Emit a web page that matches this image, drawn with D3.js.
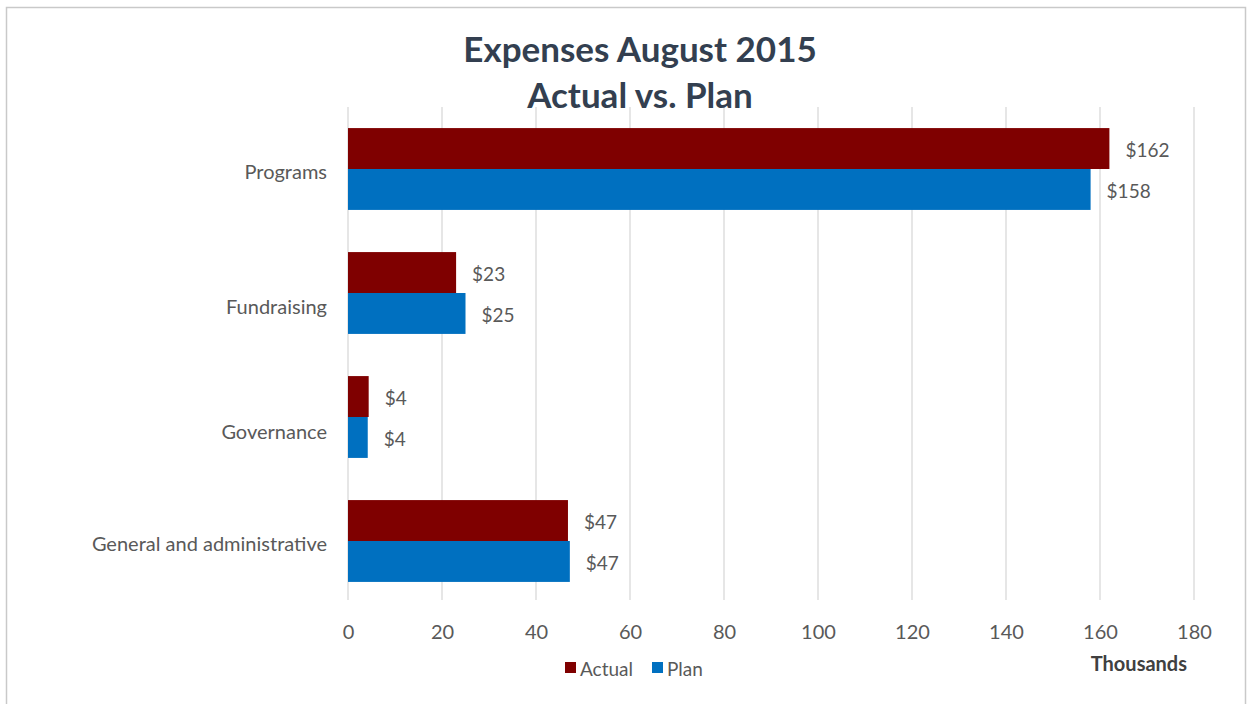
<!DOCTYPE html>
<html>
<head>
<meta charset="utf-8">
<script src="https://cdn.jsdelivr.net/npm/d3@7"></script>
<style>
  html, body { margin: 0; padding: 0; background: #fff; }
  svg { display: block; }
  text { font-family: Lato, "Open Sans", sans-serif; }
</style>
</head>
<body>
<svg id="chart" width="1251" height="704"></svg>
<script>
const categories = ["Programs", "Fundraising", "Governance", "General and administrative"];
const seriesNames = ["Actual", "Plan"];
const actualValues = [162, 23, 4.4, 46.8];
const planValues = [158, 25, 4.2, 47.2];
const xTicks = [0, 20, 40, 60, 80, 100, 120, 140, 160, 180];
const titleLines = ["Expenses August 2015", "Actual vs. Plan"];
const unitLabel = "Thousands";
const colors = { Actual: "#7F0000", Plan: "#0070C0" };

const svg = d3.select("#chart");

// frame
svg.append("rect").attr("x", 6.5).attr("y", 7.5).attr("width", 1239).attr("height", 700)
  .attr("fill", "#fff").attr("stroke", "#c9c9c9").attr("stroke-width", 1.5);

const x = d3.scaleLinear().domain([0, 180]).range([348, 1194]);
const y = d3.scaleBand().domain(categories).range([107, 603]).paddingInner(0.34).paddingOuter(0.17);
const ySub = d3.scaleBand().domain(seriesNames).range([0, y.bandwidth()]);

// gridlines
svg.append("g").selectAll("line").data(xTicks).join("line")
  .attr("x1", d => x(d)).attr("x2", d => x(d))
  .attr("y1", 107).attr("y2", 600)
  .attr("stroke", "#d9d9d9").attr("stroke-width", 1.3);

// bars
const data = categories.map((c, i) => ({ cat: c, Actual: actualValues[i], Plan: planValues[i] }));
const groups = svg.append("g").selectAll("g").data(data).join("g")
  .attr("transform", d => `translate(0,${y(d.cat)})`);
groups.selectAll("rect").data(d => seriesNames.map(s => ({ s, v: d[s] }))).join("rect")
  .attr("x", x(0)).attr("y", d => ySub(d.s)).attr("width", d => x(d.v) - x(0))
  .attr("height", ySub.bandwidth()).attr("fill", d => colors[d.s]);
groups.selectAll("text").data(d => seriesNames.map(s => ({ s, v: d[s] }))).join("text")
  .attr("x", d => x(d.v) + 16).attr("y", d => ySub(d.s) + ySub.bandwidth() / 2 + 2)
  .attr("dy", "0.35em").attr("font-size", 19).attr("fill", "#595959")
  .text(d => "$" + Math.round(d.v));

// category axis labels (slight vertical offsets as in the original rendering)
const catLabelShift = [3, 14, 15, 3];
svg.append("g").selectAll("text").data(categories).join("text")
  .attr("x", 327).attr("y", (d, i) => y(d) + y.bandwidth() / 2 + catLabelShift[i]).attr("dy", "0.35em")
  .attr("text-anchor", "end").attr("font-size", 20).attr("fill", "#595959")
  .text(d => d);

// x axis tick labels
const xAxis = d3.axisBottom(x).tickValues(xTicks).tickSize(0).tickPadding(0);
const gx = svg.append("g").attr("transform", "translate(0,632)").call(xAxis);
gx.select(".domain").remove();
gx.selectAll("text").attr("font-size", 20).attr("fill", "#595959")
  .attr("font-family", "Lato, 'Open Sans', sans-serif").attr("dy", "0.35em").attr("y", 0);

// title
svg.append("g").selectAll("text").data(titleLines).join("text")
  .attr("x", 640).attr("y", (d, i) => 62 + i * 46)
  .attr("text-anchor", "middle").attr("font-size", 35).attr("font-weight", "bold")
  .attr("fill", "#333F50").text(d => d);

// legend
const legend = svg.append("g");
const legendX = [565, 652];
seriesNames.forEach((s, i) => {
  legend.append("rect").attr("x", legendX[i]).attr("y", 662).attr("width", 11).attr("height", 11)
    .attr("fill", colors[s]);
  legend.append("text").attr("x", legendX[i] + 15).attr("y", 676).attr("font-size", 19)
    .attr("fill", "#595959").text(s);
});

// unit label
svg.append("text").attr("x", 1187).attr("y", 671).attr("text-anchor", "end")
  .attr("font-size", 20).attr("font-weight", "bold").attr("fill", "#404040").text(unitLabel);
</script>
</body>
</html>
